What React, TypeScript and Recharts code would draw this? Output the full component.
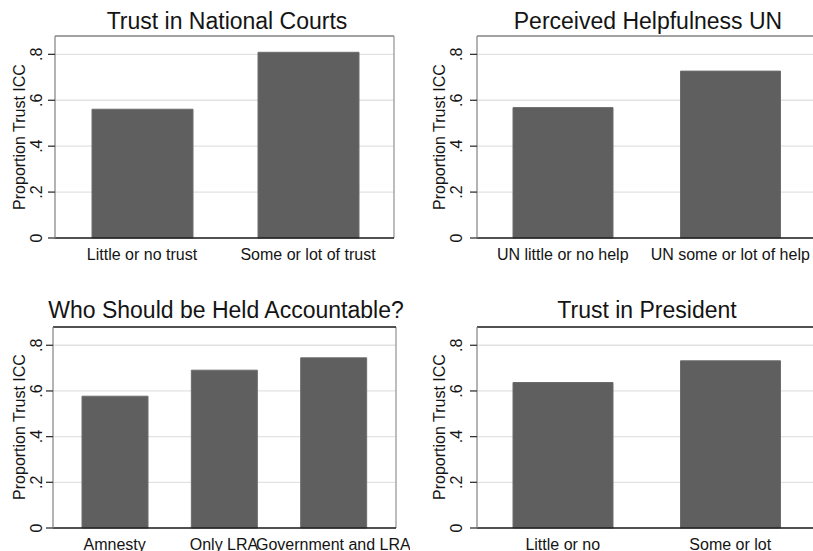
import { BarChart, Bar, XAxis, YAxis, CartesianGrid } from 'recharts'

const courtsCats = ['Little or no trust', 'Some or lot of trust']
const courtsVals = [0.561, 0.809]
const unCats = ['UN little or no help', 'UN some or lot of help']
const unVals = [0.568, 0.727]
const accCats = ['Amnesty', 'Only LRA', 'Government and LRA']
const accVals = [0.577, 0.691, 0.745]
const presCats = ['Little or no', 'Some or lot']
const presVals = [0.637, 0.732]
const yTicks = [0, 0.2, 0.4, 0.6, 0.8]

const FONT = '"Liberation Sans", Arial, sans-serif'
const INK = '#141414'
const BAR = '#5f5f5f'

const fmt = (v: number) => (v === 0 ? '0' : String(v).replace(/^0/, ''))

function YTick(props: any) {
  const { x, y, payload } = props
  return (
    <text x={x} y={y} transform={`rotate(-90, ${x}, ${y})`} textAnchor="middle"
      fontSize={16} fontFamily={FONT} fill={INK}>
      {fmt(payload.value)}
    </text>
  )
}

function XTick(props: any) {
  const { x, y, payload } = props
  return (
    <text x={x} y={y + 22} textAnchor="middle" fontSize={16} fontFamily={FONT} fill={INK}>
      {payload.value}
    </text>
  )
}

interface PanelProps {
  cats: string[]
  vals: number[]
  left: number
  top: number
  width: number
  height: number
  margin: { top: number; right: number; bottom: number; left: number }
  yWidth: number
  xHeight: number
  pad: { left: number; right: number }
  barSize: number
  tickMargin: number
  topColor: string
}

function Panel(p: PanelProps) {
  const data = p.cats.map((name, i) => ({ name, value: p.vals[i] }))
  return (
    <div style={{ position: 'absolute', left: p.left, top: p.top }}>
      <BarChart width={p.width} height={p.height} data={data} margin={p.margin}>
        <CartesianGrid vertical={false} stroke="#e2e2e2" strokeWidth={1.3} />
        {/* frame: right edge and top edge of the plot region */}
        <CartesianGrid horizontal={false} stroke="#9a9a9a" strokeWidth={1.3}
          verticalCoordinatesGenerator={({ offset }: any) => [offset.left + offset.width]} />
        <CartesianGrid vertical={false} stroke={p.topColor} strokeWidth={1.3}
          horizontalCoordinatesGenerator={({ offset }: any) => [offset.top]} />
        <XAxis dataKey="name" height={p.xHeight} padding={p.pad} interval={0}
          tickSize={0} tickMargin={0} tickLine={false} tick={<XTick />}
          axisLine={{ stroke: '#1e1e1e', strokeWidth: 1.6 }} />
        <YAxis domain={[0, 0.88]} ticks={yTicks} width={p.yWidth} interval={0}
          tickSize={7} tickMargin={p.tickMargin} tick={<YTick />}
          tickLine={{ stroke: '#333', strokeWidth: 1.3 }}
          axisLine={{ stroke: '#8a8a8a', strokeWidth: 1.3 }} />
        <Bar dataKey="value" fill={BAR} stroke="#6c6c6c" strokeWidth={1}
          barSize={p.barSize} isAnimationActive={false} />
      </BarChart>
    </div>
  )
}

export default function App() {
  return (
    <div style={{ position: 'absolute', left: 0, top: 0, width: 813, height: 551,
      overflow: 'hidden', background: '#fff' }}>
      <Panel cats={courtsCats} vals={courtsVals} left={0} top={0} width={410} height={275}
        margin={{ top: 36, right: 16, bottom: 7, left: 0 }} yWidth={55} xHeight={30}
        pad={{ left: 4, right: 3 }} barSize={101} tickMargin={6} topColor="#8a8a8a" />
      <Panel cats={unCats} vals={unVals} left={405} top={0} width={416} height={275}
        margin={{ top: 36, right: 5, bottom: 7, left: 0 }} yWidth={72} xHeight={30}
        pad={{ left: 2, right: 2 }} barSize={100} tickMargin={8} topColor="#8a8a8a" />
      <Panel cats={accCats} vals={accVals} left={0} top={275} width={410} height={276}
        margin={{ top: 52, right: 14, bottom: 0, left: 0 }} yWidth={53} xHeight={23}
        pad={{ left: 7, right: 8 }} barSize={66} tickMargin={4} topColor="#1e1e1e" />
      <Panel cats={presCats} vals={presVals} left={405} top={275} width={416} height={276}
        margin={{ top: 52, right: 5, bottom: 0, left: 0 }} yWidth={72} xHeight={23}
        pad={{ left: 2, right: 2 }} barSize={100} tickMargin={8} topColor="#1e1e1e" />
      <svg width={813} height={551} style={{ position: 'absolute', left: 0, top: 0, pointerEvents: 'none' }}>
        <g fontFamily={FONT} fontSize={23} fill={INK} textAnchor="middle">
          <text x={227} y={29}>Trust in National Courts</text>
          <text x={648} y={29}>Perceived Helpfulness UN</text>
          <text x={226} y={318}>Who Should be Held Accountable?</text>
          <text x={647} y={318}>Trust in President</text>
        </g>
        <g fontFamily={FONT} fontSize={16} fill={INK} textAnchor="middle">
          <text x={25} y={137} transform="rotate(-90, 25, 137)">Proportion Trust ICC</text>
          <text x={445} y={137} transform="rotate(-90, 445, 137)">Proportion Trust ICC</text>
          <text x={25} y={427} transform="rotate(-90, 25, 427)">Proportion Trust ICC</text>
          <text x={445} y={427} transform="rotate(-90, 445, 427)">Proportion Trust ICC</text>
        </g>
      </svg>
    </div>
  )
}
